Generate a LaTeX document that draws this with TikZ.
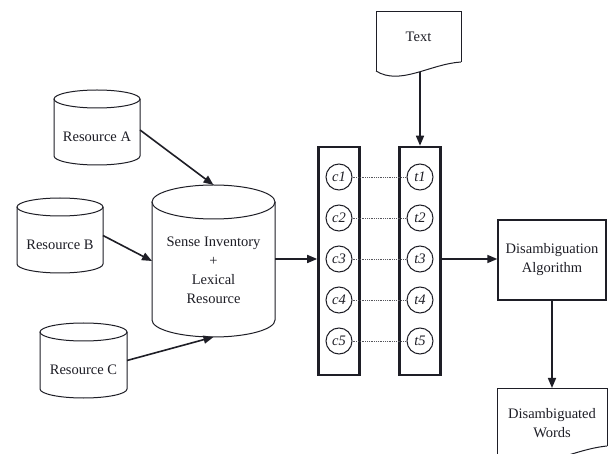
\documentclass[tikz,border=0pt]{standalone}
\usepackage{fontspec}
\setmainfont{Liberation Serif}
\usetikzlibrary{arrows.meta,calc}
\definecolor{ink}{RGB}{30,30,38}
\newcommand\mycyl[3]{%
  \draw[outl] ([yshift=-#3]#1.north west) -- ([yshift=#3]#1.south west)
     arc[start angle=180, end angle=360, x radius=#2, y radius=#3]
     -- ([yshift=-#3]#1.north east);
  \draw[outl] ([yshift=-#3]#1.north) ellipse [x radius=#2, y radius=#3];
}
\begin{document}
\begin{tikzpicture}[x=1pt,y=-1pt,
  txt/.style={text=ink, font=\fontsize{14.5}{19}\selectfont, align=center, inner sep=0pt},
  geo/.style={draw=none, inner sep=0pt, outer sep=0pt},
  arr/.style={draw=ink, line width=1.6pt, -{Triangle[length=10pt,width=8pt]}},
  outl/.style={line width=1pt, draw=ink},
  col/.style={draw=ink, line width=2.6pt, minimum width=41pt, minimum height=228pt, inner sep=0pt},
  cc/.style={circle, draw=ink, line width=1pt, minimum size=26pt, inner sep=0pt, font=\fontsize{14.5}{14.5}\selectfont\itshape, text=ink},
  dots/.style={densely dotted, line width=0.8pt, draw=ink!75},
]
\clip (0,0) rectangle (608,454);
\fill[white] (0,0) rectangle (608,454);

% resources
\node[geo, minimum width=86pt, minimum height=75pt] (resA) at (97,127.5) {};
\mycyl{resA}{43pt}{9pt}
\node[txt] (resAt) at ([yshift=-9pt]resA.center) {Resource A};

\node[geo, minimum width=86pt, minimum height=75pt] (resB) at (60,235.5) {};
\mycyl{resB}{43pt}{9pt}
\node[txt] (resBt) at ([yshift=-9pt]resB.center) {Resource B};

\node[geo, minimum width=87pt, minimum height=75pt] (resC) at (83.5,360.5) {};
\mycyl{resC}{43.5pt}{9pt}
\node[txt] (resCt) at ([yshift=-9pt]resC.center) {Resource C};

% sense inventory
\node[geo, minimum width=123pt, minimum height=152pt] (sense) at (213.5,261) {};
\mycyl{sense}{61.5pt}{17pt}
\node[txt] (senset) at ([yshift=-9pt]sense.center) {Sense Inventory\\+\\Lexical\\Resource};

\draw[arr] ([yshift=-2.5pt]resA.east) -- (sense.north);
\draw[arr] (resB.east) -- (sense.west);
\draw[arr] (resC.east) -- (sense.south);

% columns
\node[col] (cbox) at (339,261) {};
\node[col] (tbox) at (420,261) {};
\foreach \i/\yy in {1/177,2/218,3/259,4/300,5/341}{
  \node[cc] (c\i) at (339,\yy) {c\i};
  \node[cc] (t\i) at (420,\yy) {t\i};
  \draw[dots] (c\i) -- (t\i);
}

\draw[arr] (sense.east |- c3) -- (cbox.west |- c3);

% text document
\node[geo, minimum width=85pt, minimum height=60pt] (textdoc) at (418.5,42) {};
\draw[outl] (376,71) -- (376,12) -- (461,12) -- (461,62);
\draw[outl] (376,71) .. controls (400,86) and (430,64) .. coordinate[pos=0.53] (textbot) (461,62);
\node[txt] (textt) at (418.5,37) {Text};
\draw[arr] (tbox.north |- textbot) -- (tbox.north);

% algorithm
\node[draw=ink, line width=1.4pt, minimum width=108pt, minimum height=80pt, inner sep=0pt] (alg) at (552,260) {};
\node[txt] (algt) at (alg.center) {Disambiguation\\Algorithm};
\draw[arr] (tbox.east |- t3) -- (alg.west |- t3);

% words document
\node[geo, minimum width=110pt, minimum height=66pt] (words) at (552,421) {};
\draw[outl] (497,458) -- (497,388) -- (607,388) -- (607,446);
\draw[outl] (497,458) .. controls (528,478) and (567,450) .. (607,446);
\node[txt] (wordst) at (552,423) {Disambiguated\\Words};
\draw[arr] (alg.south) -- (words.north);
\end{tikzpicture}
\end{document}
